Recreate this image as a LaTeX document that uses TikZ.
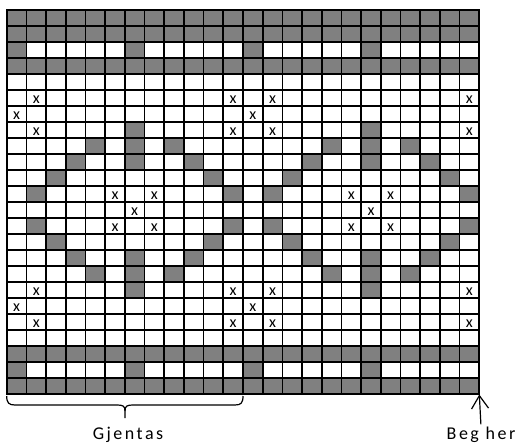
\documentclass[tikz,border=0pt]{standalone}
\usepackage{fontspec}
\setmainfont{Carlito}
\usetikzlibrary{arrows.meta}
\definecolor{cellgray}{HTML}{808080}
\tikzset{
  gridline/.style={line width=1.7pt, black, line cap=rect},
  xmark/.style={font=\fontsize{16}{16}\selectfont, inner sep=0pt, anchor=base},
  lbl/.style={font=\fontsize{18}{18}\selectfont\addfontfeature{LetterSpace=14}, inner sep=0pt, anchor=base},
  thinline/.style={line width=1.2pt, black},
}
\begin{document}
\begin{tikzpicture}[x=1pt,y=-1pt]
\useasboundingbox (0,0) rectangle (517,445);
\def\cw{19.69}\def\ch{16}\def\gx{6.7}\def\gy{10}
% gray cells
\foreach \r/\cols in {
  1/{1,...,24}, 2/{1,...,24}, 3/{1,7,13,19}, 4/{1,...,24},
  8/{7,19}, 9/{5,7,9,17,19,21}, 10/{4,7,10,16,19,22}, 11/{3,11,15,23},
  12/{2,12,14,24}, 14/{2,12,14,24}, 15/{3,11,15,23},
  16/{4,7,10,16,19,22}, 17/{5,7,9,17,19,21}, 18/{7,19},
  22/{1,...,24}, 23/{1,7,13,19}, 24/{1,...,24}} {
  \foreach \c in \cols {
    \fill[cellgray] ({\gx+(\c-1)*\cw},{\gy+(\r-1)*\ch}) rectangle ++(\cw,\ch);
  }
}
% x marks
\foreach \r/\cols in {
  6/{2,12,14,24}, 7/{1,13}, 8/{2,12,14,24},
  12/{6,8,18,20}, 13/{7,19}, 14/{6,8,18,20},
  18/{2,12,14,24}, 19/{1,13}, 20/{2,12,14,24}} {
  \foreach \c in \cols {
    \node[xmark] (x-\r-\c) at ({\gx+(\c-0.5)*\cw},{\gy+\r*\ch-2.5}) {x};
  }
}
% grid lines
\foreach \i in {0,...,24} {
  \draw[gridline] ({\gx+\i*\cw},\gy) -- ({\gx+\i*\cw},{\gy+24*\ch});
  \draw[gridline] (\gx,{\gy+\i*\ch}) -- ({\gx+24*\cw},{\gy+\i*\ch});
}
% brace
\draw[thinline] (6.7,396) .. controls (6.7,403) and (9,405) .. (15,405) -- (117,405)
  .. controls (123,405) and (125,406) .. (125,411) -- (125,418);
\draw[thinline] (243,396) .. controls (243,403) and (241,405) .. (235,405) -- (133,405)
  .. controls (127,405) and (125,406) .. (125,411);
% labels
\node[lbl] (gj) at (128,439) {Gjentas};
\node[lbl] (beg) at (481,439) {Beg her};
\coordinate (corner) at (479.3,394.5);
\draw[thinline, -{Straight Barb[length=13pt,width=17pt]}, shorten <=2pt] (beg.north) -- (corner);
\end{tikzpicture}
\end{document}
